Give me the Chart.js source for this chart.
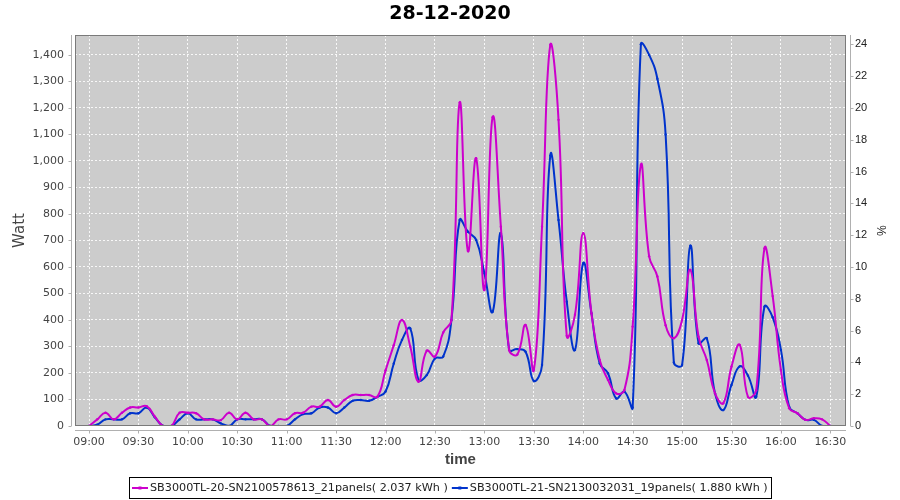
<!DOCTYPE html>
<html>
<head>
<meta charset="utf-8">
<script src="https://cdn.jsdelivr.net/npm/chart.js@4.4.1/dist/chart.umd.min.js"></script>
<style>
  html, body { margin: 0; padding: 0; background: #fff; }
  #wrap { width: 900px; height: 500px; }
</style>
</head>
<body>
<div id="wrap"><canvas id="chart" width="900" height="500"></canvas></div>
<script>
// 1. DATA (5 minute samples)

const chartTitle = '28-12-2020';

const times = [
  '09:00','09:05','09:10','09:15','09:20','09:25','09:30','09:35','09:40','09:45','09:50','09:55',
  '10:00','10:05','10:10','10:15','10:20','10:25','10:30','10:35','10:40','10:45','10:50','10:55',
  '11:00','11:05','11:10','11:15','11:20','11:25','11:30','11:35','11:40','11:45','11:50','11:55',
  '12:00','12:05','12:10','12:15','12:20','12:25','12:30','12:35','12:40','12:45','12:50','12:55',
  '13:00','13:05','13:10','13:15','13:20','13:25','13:30','13:35','13:40','13:45','13:50','13:55',
  '14:00','14:05','14:10','14:15','14:20','14:25','14:30','14:35','14:40','14:45','14:50','14:55',
  '15:00','15:05','15:10','15:15','15:20','15:25','15:30','15:35','15:40','15:45','15:50','15:55',
  '16:00','16:05','16:10','16:15','16:20','16:25','16:30'
];

// SB3000TL-20 (Watt)
const sb20Watt = [
  0, 25, 50, 25, 50, 70, 70, 75, 35, 0, 0, 50,
  50, 48, 25, 25, 22, 50, 25, 50, 25, 25, 0, 25,
  25, 48, 50, 73, 73, 98, 73, 98, 117, 117, 117, 110,
  210, 305, 400, 300, 167, 284, 262, 353, 400, 1220, 660, 1010,
  513, 1165, 752, 287, 270, 381, 211, 752, 1438, 1155, 340, 420,
  727, 425, 249, 174, 123, 136, 375, 985, 640, 564, 380, 331,
  400, 589, 337, 249, 123, 86, 224, 306, 110, 135, 670, 490,
  211, 67, 48, 23, 29, 25, 0
];

// SB3000TL-21 (Watt)
const sb21Watt = [
  0, 5, 25, 25, 25, 48, 48, 70, 33, 0, 0, 25,
  48, 25, 25, 25, 10, 0, 25, 25, 25, 25, 0, 0,
  0, 25, 45, 48, 70, 70, 48, 70, 95, 98, 95, 110,
  130, 236, 325, 368, 174, 192, 255, 262, 400, 777, 733, 702,
  576, 431, 727, 287, 290, 280, 170, 230, 1020, 777, 469, 287,
  614, 425, 236, 199, 104, 130, 70, 1440, 1400, 1310, 1100, 240,
  230, 680, 312, 331, 123, 60, 155, 225, 190, 110, 450, 410,
  287, 73, 48, 23, 23, 0, 0
];

const seriesLabels = [
  'SB3000TL-20-SN2100578613_21panels( 2.037 kWh )',
  'SB3000TL-21-SN2130032031_19panels( 1.880 kWh )'
];
const seriesColors = ['#cc00cc', '#0033cc'];

const xTickLabels = ['09:00','09:30','10:00','10:30','11:00','11:30','12:00','12:30',
                     '13:00','13:30','14:00','14:30','15:00','15:30','16:00','16:30'];

const wattMax = 1475;
const wattPerPercent = 60;

// 2. HELPERS

function toMin(hhmm) {
  const [h, m] = hhmm.split(':').map(Number);
  return h * 60 + m;
}

function toPoints(values) {
  return values.map((v, i) => ({ x: toMin(times[i]), y: v }));
}

// 3. FRAME / TEXT PLUGIN (JFreeChart look)

const frame = {
  id: 'frame',
  beforeDraw(chart) {
    const { ctx, chartArea: a } = chart;
    ctx.save();
    ctx.fillStyle = '#ffffff';
    ctx.fillRect(0, 0, chart.width, chart.height);
    ctx.fillStyle = '#cccccc';
    ctx.fillRect(a.left, a.top, a.right - a.left, a.bottom - a.top);
    ctx.restore();
  },
  afterDraw(chart) {
    const { ctx, chartArea: a, scales } = chart;
    ctx.save();

    // plot outline
    ctx.strokeStyle = '#7a7a7a';
    ctx.lineWidth = 1;
    ctx.strokeRect(a.left + 0.5, a.top + 0.5, a.right - a.left - 1, a.bottom - a.top - 1);

    // axis lines, offset from the plot
    const lx = a.left - 3.5, rx = a.right + 4.5, by = a.bottom + 4.5;
    ctx.strokeStyle = '#b0b0b0';
    ctx.beginPath();
    ctx.moveTo(lx, a.top); ctx.lineTo(lx, a.bottom);
    scales.y.ticks.forEach(t => {
      const y = Math.round(scales.y.getPixelForValue(t.value)) + 0.5;
      ctx.moveTo(lx - 3, y); ctx.lineTo(lx, y);
    });
    ctx.moveTo(rx, a.top); ctx.lineTo(rx, a.bottom);
    scales.y2.ticks.forEach(t => {
      const y = Math.round(scales.y2.getPixelForValue(t.value)) + 0.5;
      ctx.moveTo(rx, y); ctx.lineTo(rx + 3, y);
    });
    ctx.moveTo(a.left, by); ctx.lineTo(a.right, by);
    scales.x.ticks.forEach(t => {
      const x = Math.round(scales.x.getPixelForValue(t.value)) + 0.5;
      ctx.moveTo(x, by); ctx.lineTo(x, by + 3);
    });
    ctx.stroke();

    // title
    ctx.fillStyle = '#000';
    ctx.font = 'bold 19px "DejaVu Sans"';
    ctx.textAlign = 'center';
    ctx.textBaseline = 'middle';
    ctx.fillText(chartTitle, 450, 14);

    // axis titles
    ctx.fillStyle = '#444';
    ctx.font = 'bold 15px "Liberation Sans"';
    ctx.fillText('time', (a.left + a.right) / 2, 460);

    ctx.save();
    ctx.translate(20, (a.top + a.bottom) / 2);
    ctx.rotate(-Math.PI / 2);
    ctx.font = '15px "DejaVu Sans"';
    ctx.fillText('Watt', 0, 0);
    ctx.restore();

    ctx.save();
    ctx.translate(880, (a.top + a.bottom) / 2);
    ctx.rotate(Math.PI / 2);
    ctx.fillStyle = '#222';
    ctx.font = '12px "Liberation Sans"';
    ctx.fillText('%', 0, 0);
    ctx.restore();

    // legend box
    ctx.font = '11.2px "DejaVu Sans"';
    const symW = 16, gap = 2, pad = 3, between = 4;
    const widths = seriesLabels.map(l => ctx.measureText(l).width);
    const total = Math.round(pad * 2 + widths.reduce((s, w) => s + symW + gap + w, 0) + between);
    const left = Math.round(450 - total / 2);
    const top = 477, h = 21, cy = top + h / 2 + 0.5;
    ctx.strokeStyle = '#000';
    ctx.strokeRect(left + 0.5, top + 0.5, total, h);
    let x = left + pad;
    seriesLabels.forEach((label, i) => {
      ctx.strokeStyle = seriesColors[i];
      ctx.lineWidth = 2;
      ctx.beginPath();
      ctx.moveTo(x, cy); ctx.lineTo(x + symW, cy);
      ctx.stroke();
      ctx.fillStyle = seriesColors[i];
      ctx.fillRect(x + symW / 2 - 1.5, cy - 1.5, 3, 3);
      x += symW + gap;
      ctx.fillStyle = '#222';
      ctx.textAlign = 'left';
      ctx.fillText(label, x, cy);
      x += widths[i] + between;
    });

    ctx.restore();
  }
};

// 4. CHART

const gridStyle = { color: 'rgba(255,255,255,0.85)', lineWidth: 1, drawTicks: false };

new Chart(document.getElementById('chart'), {
  type: 'line',
  data: {
    datasets: [sb20Watt, sb21Watt].map((values, i) => ({
      label: seriesLabels[i],
      data: toPoints(values),
      borderColor: seriesColors[i],
      backgroundColor: seriesColors[i],
      borderWidth: 2,
      pointRadius: 1.2,
      pointBorderWidth: 0,
      tension: 0.45,
      fill: false,
      yAxisID: 'y'
    }))
  },
  options: {
    responsive: false,
    animation: false,
    devicePixelRatio: 1,
    layout: { padding: { top: 35, left: 0, right: 0, bottom: 0 } },
    plugins: {
      legend: { display: false },
      title: { display: false },
      tooltip: { enabled: false }
    },
    scales: {
      x: {
        type: 'linear',
        min: toMin('08:51') + 0.5,
        max: toMin('16:39') + 0.5,
        afterBuildTicks: s => { s.ticks = xTickLabels.map(l => ({ value: toMin(l) })); },
        ticks: {
          callback: (v, i) => xTickLabels[i],
          autoSkip: false,
          maxRotation: 0,
          padding: 10,
          color: '#444',
          font: { family: 'DejaVu Sans', size: 11 }
        },
        grid: gridStyle,
        border: { display: false, dash: [2, 2] },
        afterFit: s => { s.height = 74; }
      },
      y: {
        position: 'left',
        min: 0,
        max: wattMax,
        ticks: {
          stepSize: 100,
          includeBounds: false,
          callback: v => v.toLocaleString('en-US'),
          padding: 11,
          color: '#444',
          font: { family: 'DejaVu Sans', size: 11 }
        },
        grid: gridStyle,
        border: { display: false, dash: [2, 2] },
        afterFit: s => { s.width = 75; }
      },
      y2: {
        position: 'right',
        min: 0,
        max: wattMax / wattPerPercent,
        ticks: {
          stepSize: 2,
          includeBounds: false,
          padding: 9,
          color: '#222',
          font: { family: 'Liberation Sans', size: 11 }
        },
        grid: { display: false, drawTicks: false },
        border: { display: false },
        afterFit: s => { s.width = 54; }
      }
    }
  },
  plugins: [frame]
});
</script>
</body>
</html>
